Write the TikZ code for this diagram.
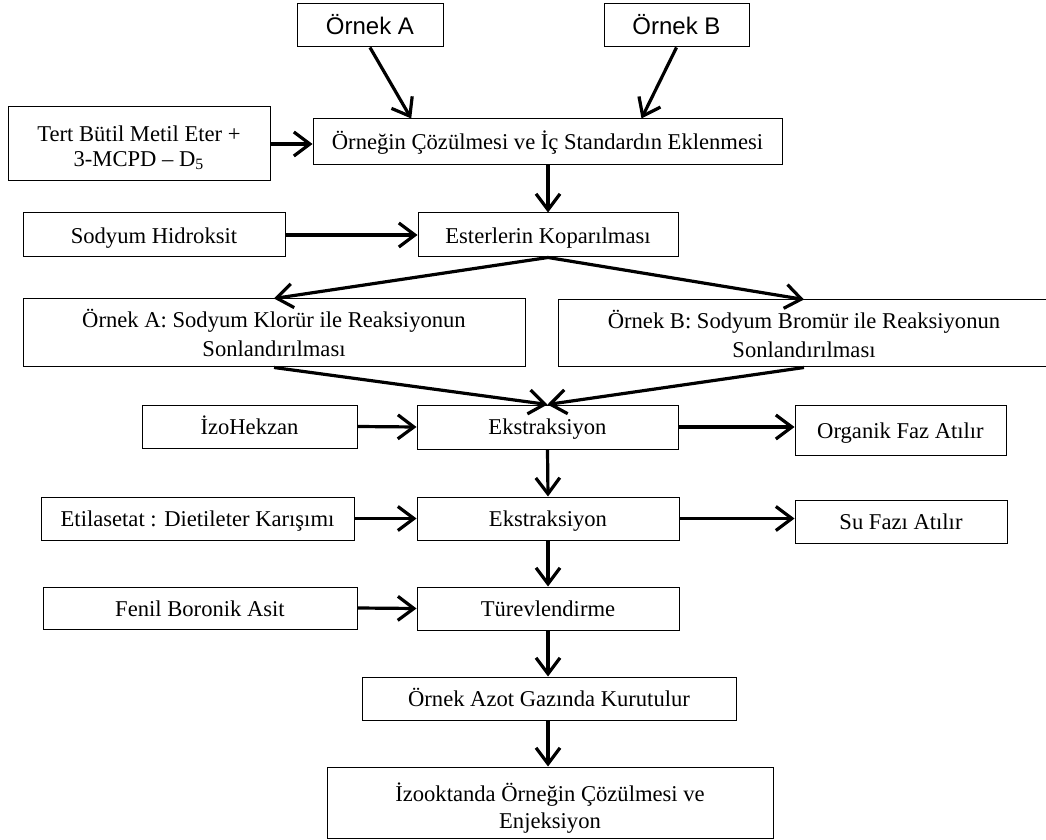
\documentclass[tikz,border=0pt]{standalone}
\usepackage{fontspec}
\setmainfont{Liberation Serif}
\newfontfamily\arialfont{Liberation Sans}
\usetikzlibrary{arrows.meta,calc}

\begin{document}
\begin{tikzpicture}[
    x=0.5pt, y=-0.5pt,
    every node/.style={rectangle, draw, inner sep=0pt, align=center, line width=0.5pt, font=\fontsize{11.3}{13.5}\selectfont},
    one/.style={text height=8.5pt, text depth=0.5pt},
    sample/.style={font=\arialfont\fontsize{12}{14}\selectfont, text height=10pt, text depth=0.5pt},
    flow/.style={draw, line width=1.6pt, -{Straight Barb[length=8pt, width=12pt, line width=1.6pt]}}
]
\useasboundingbox (0,0) rectangle (1046,840);

% samples and first step
\node[sample, minimum width=73pt, minimum height=21.5pt] (ornA) at (370,25.5) {Örnek A};
\node[sample, minimum width=72.5pt, minimum height=21.5pt] (ornB) at (676.5,25.5) {Örnek B};
\node[minimum width=131pt, minimum height=37pt, font=\fontsize{11.3}{12.5}\selectfont] (tert) at (139,144) {\rule{0pt}{11.7pt}Tert Bütil Metil Eter +\\3-MCPD – D\textsubscript{5}};
\node[one, minimum width=234.5pt, minimum height=23pt] (coz) at (547.5,142) {Örneğin Çözülmesi ve İç Standardın Eklenmesi};

% ester cleavage
\node[one, minimum width=131pt, minimum height=22pt] (naoh) at (154,235) {Sodyum Hidroksit};
\node[one, minimum width=130pt, minimum height=22pt] (ester) at (548,235) {Esterlerin Koparılması};
\node[minimum width=251pt, minimum height=34pt, font=\fontsize{11.3}{14.5}\selectfont] (kA) at (274,333) {Örnek A: Sodyum Klorür ile Reaksiyonun\\Sonlandırılması};
\node[minimum width=246pt, minimum height=33.5pt, font=\fontsize{11.3}{14.5}\selectfont] (kB) at (804,333.5) {Örnek B: Sodyum Bromür ile Reaksiyonun\\Sonlandırılması};

% extractions
\node[one, minimum width=107.5pt, minimum height=21.5pt] (izo) at (249.5,426.5) {İzoHekzan};
\node[one, minimum width=130.5pt, minimum height=22pt] (eks1) at (547.5,427) {Ekstraksiyon};
\node[one, minimum width=105.5pt, minimum height=25pt] (org) at (900.5,430) {Organik Faz Atılır};
\node[one, minimum width=156.5pt, minimum height=21.5pt] (etil) at (197.5,518.5) {Etilasetat : Dietileter Karışımı};
\node[one, minimum width=131pt, minimum height=21.5pt] (eks2) at (548,518.5) {Ekstraksiyon};
\node[one, minimum width=106pt, minimum height=21.5pt] (su) at (901,521.5) {Su Fazı Atılır};

% derivatisation and injection
\node[one, minimum width=157pt, minimum height=21pt] (fenil) at (200,608) {Fenil Boronik Asit};
\node[one, minimum width=131pt, minimum height=21.5pt] (turev) at (548,608.5) {Türevlendirme};
\node[one, minimum width=187pt, minimum height=21.5pt] (azot) at (549,698.5) {Örnek Azot Gazında Kurutulur};
\node[minimum width=223pt, minimum height=35.5pt] (izook) at (550,802.5) {\rule{0pt}{14.5pt}İzooktanda Örneğin Çözülmesi ve\\Enjeksiyon};

% arrows
\draw[flow] (ornA.south) -- ($(coz.north west)!0.21!(coz.north east)$);
\draw[flow] (ornB.south) -- ($(coz.north west)!0.70!(coz.north east)$);
\draw[flow] (tert.east) -- (tert.east -| coz.west);
\draw[flow] (coz.south -| ester.north) -- (ester.north);
\draw[flow] (naoh.east) -- (ester.west);
\draw[flow] (ester.south) -- (kA.north);
\draw[flow] (ester.south) -- (kB.north);
\draw[flow] (kA.south) -- (eks1.north);
\draw[flow] (kB.south) -- (eks1.north);
\draw[flow] (izo.east) -- (eks1.west);
\draw[flow] (eks1.east) -- (eks1.east -| org.west);
\draw[flow] (eks1.south) -- (eks2.north);
\draw[flow] (etil.east) -- (eks2.west);
\draw[flow] (eks2.east) -- (eks2.east -| su.west);
\draw[flow] (eks2.south) -- (turev.north);
\draw[flow] (fenil.east) -- (turev.west);
\draw[flow] (turev.south) -- (turev.south |- azot.north);
\draw[flow] (azot.south -| turev.south) -- (turev.south |- izook.north);
\end{tikzpicture}
\end{document}
